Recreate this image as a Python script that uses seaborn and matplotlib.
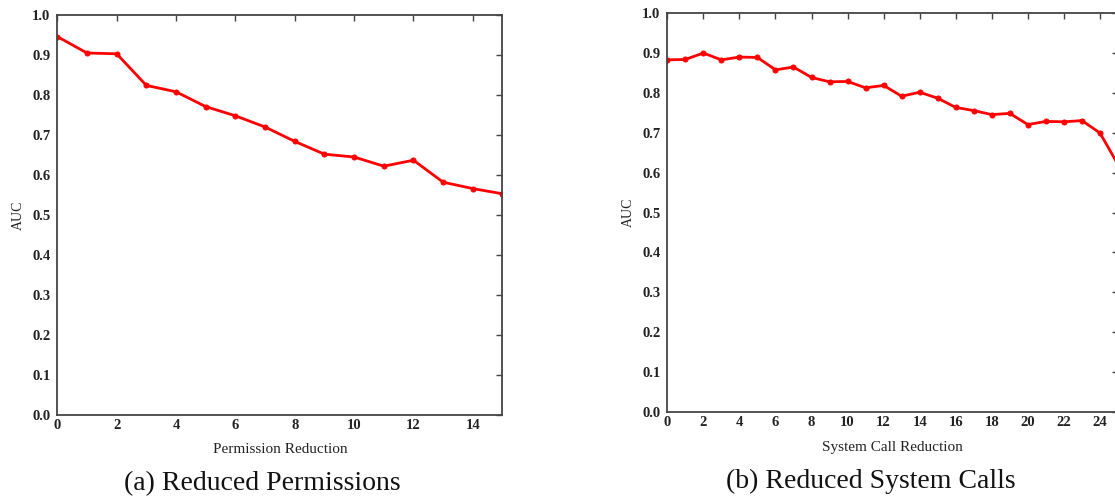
import matplotlib
matplotlib.use("Agg")
import matplotlib.pyplot as plt
import seaborn as sns
import pandas as pd

# ---- data ----
perm_reduction = list(range(0, 16))
perm_auc = [0.946, 0.905, 0.903, 0.824, 0.808, 0.771, 0.748, 0.720, 0.684,
            0.652, 0.645, 0.622, 0.637, 0.582, 0.566, 0.553]

syscall_reduction = list(range(0, 26))
syscall_auc = [0.882, 0.883, 0.899, 0.882, 0.889, 0.888, 0.857, 0.864, 0.838,
               0.827, 0.828, 0.812, 0.818, 0.791, 0.801, 0.786, 0.763, 0.755,
               0.745, 0.748, 0.720, 0.728, 0.727, 0.730, 0.699, 0.620]

perm_xticks = list(range(0, 15, 2))
sys_xticks = list(range(0, 25, 2))
yticks = [0.0, 0.1, 0.2, 0.3, 0.4, 0.5, 0.6, 0.7, 0.8, 0.9, 1.0]

sns.set_theme(style="white")
plt.rcParams['font.family'] = ['Liberation Serif', 'DejaVu Serif']

fig = plt.figure(figsize=(11.15, 4.97), dpi=100)
W, H = 1115, 497

def add_ax(x0, x1, ytop, ybot):
    return fig.add_axes([x0 / W, (H - ybot) / H, (x1 - x0) / W, (ybot - ytop) / H])

ax1 = add_ax(57.3, 502.5, 15.0, 415.0)
ax2 = add_ax(667.3, 1118.0, 12.7, 412.3)

df1 = pd.DataFrame({"x": perm_reduction, "y": perm_auc})
df2 = pd.DataFrame({"x": syscall_reduction, "y": syscall_auc})

for ax, df, xmax, xt, xlabel, sub, subx in [
    (ax1, df1, 15, perm_xticks, "Permission Reduction", "(a) Reduced Permissions", 0.46),
    (ax2, df2, 25, sys_xticks, "System Call Reduction", "(b) Reduced System Calls", 0.452),
]:
    sns.lineplot(data=df, x="x", y="y", ax=ax, color="#ff0000", linewidth=2.0,
                 marker="o", markersize=3.6, markeredgecolor="#ff0000", clip_on=True)
    ax.set_xlim(0, xmax)
    ax.set_ylim(0, 1.0)
    ax.set_xticks(xt)
    ax.set_yticks(yticks)
    ax.set_yticklabels([f"{v:.1f}" for v in yticks])
    ax.tick_params(direction="in", length=4, width=1, color="#444444",
                   top=True, right=True, labelsize=10.5, labelcolor="#222222")
    ax.tick_params(axis="y", pad=5)
    ax.tick_params(axis="x", pad=3)
    for lbl in ax.get_xticklabels() + ax.get_yticklabels():
        lbl.set_fontweight("bold")
    for s in ax.spines.values():
        s.set_color("#444444")
        s.set_linewidth(1.3)
    ax.set_xlabel(xlabel, fontsize=11, labelpad=8, color="#222222")
    ax.set_ylabel("AUC", fontsize=10, labelpad=5, color="#222222")
    ax.text(subx, -0.172, sub, transform=ax.transAxes, ha="center", va="center",
            fontsize=20, color="#111111")

fig.savefig("out.png", dpi=100)
